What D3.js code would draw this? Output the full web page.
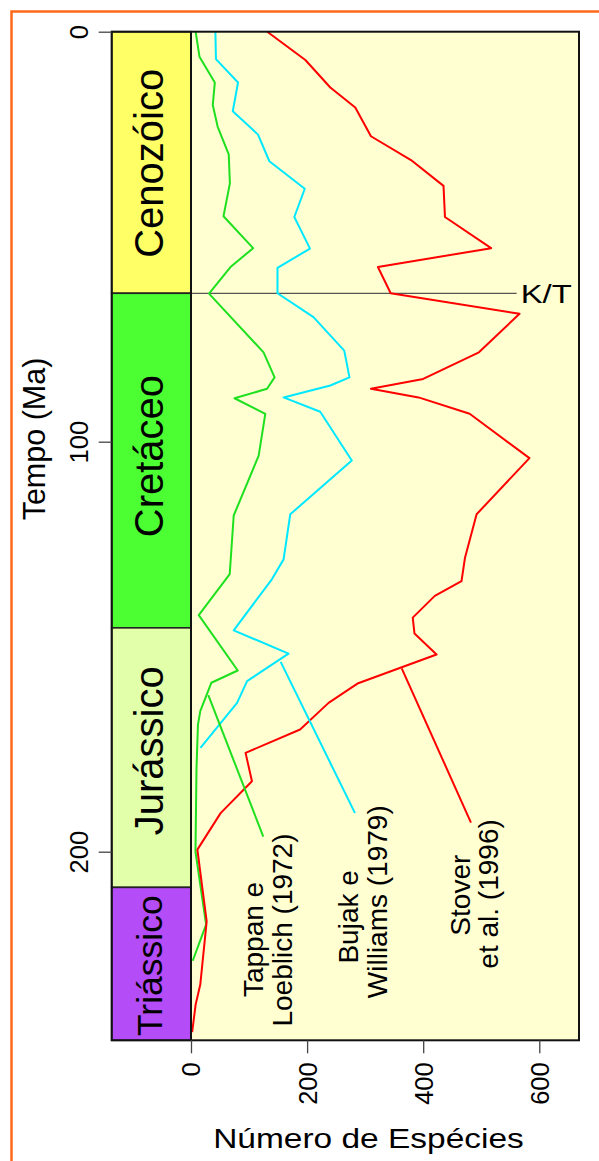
<!DOCTYPE html>
<html><head><meta charset="utf-8">
<script src="https://cdn.jsdelivr.net/npm/d3@7"></script>
<style>
html,body{margin:0;padding:0;background:#fff;}
svg{display:block;}
text{font-family:"Liberation Sans",Arial,Helvetica,sans-serif;fill:#000;}
</style>
</head><body><div id="chart"></div>
<script>
// ---- data ----
const eraNames   = ["Cenozóico","Cretáceo","Jurássico","Triássico"];
const eraStart   = [0, 63.8, 145.4, 208.7];
const eraEnd     = [63.8, 145.4, 208.7, 246];
const eraLabelAt = [32.1, 103.5, 175.4, 227.8];
const eraColors  = ["#FFFF66","#4CFF33","#E2FFAA","#B44CF8"];
const eraFont    = [40, 40, 40, 35.5];

const timeTicks    = [0, 100, 200];
const speciesTicks = [0, 200, 400, 600];

// [tempo (Ma), número de espécies]
const tappan = [[0,8],[6.1,14.6],[12.4,41],[17.9,37.5],[23.2,46],[29.9,65],[37,67],[45,56],[52.8,107],[57.4,68],[63.9,31],[78.2,125],[84.3,144],[87.1,131],[89.4,75],[93.2,128],[103.4,116.6],[118,73.6],[132.3,66.7],[142.3,13.4],[155.8,80.5],[158.8,35],[165.7,16],[169,12],[179.6,9.5],[200,7.7],[217.8,26],[226.6,3]];
const bujak = [[0,42],[6.7,43],[12.4,81],[19.4,72],[25.1,115.5],[31.6,135],[38.3,196],[45.2,178],[52.9,205],[57.6,149],[63.8,149],[69.6,211],[77.8,264],[84.3,273],[86.3,240],[89.2,159.5],[92.7,222.6],[104.6,277],[117.7,171],[128.7,159.5],[133.5,139.6],[146,73.6],[151.7,168],[158.4,96.6],[163.7,79.4],[174.7,16.3]];
const stover = [[0,131.4],[6.9,197],[13.6,240],[18.5,283],[25.5,310],[31.3,379],[37.6,435],[45.2,437.5],[52.8,517],[57.4,322],[63.8,344],[68.8,566],[78.2,496],[84.7,400],[87.1,310],[89.2,392],[93.2,480],[104,583],[117.7,492],[128.3,472],[134,466],[137.6,420],[142.9,382],[146.8,385],[151.9,423],[158.9,288],[163.7,237],[170.2,188],[175.9,94],[182.8,105],[190.6,51],[199.5,11],[217,27],[232.4,16],[237.3,8],[244,2]];

const seriesColors = ["#1EE01E","#00E8FF","#FF0000"];
const labelLines   = [["Tappan e","Loeblich (1972)"],["Bujak e","Williams (1979)"],["Stover","et al. (1996)"]];
const labelV       = [[124.5,173.5],[288.2,337.1],[480.6,529.5]];
const labelT       = [[221.4,219.1],[215.9,212.2],[210.6,210.3]];
const leaderFrom   = [[161.8,29.8],[153.7,154.5],[155.3,363]];
const leaderTo     = [[196.3,124.5],[190.6,282.5],[192.9,482.3]];

const ktTime = 63.8, ktLineEnd = 561, ktLabelV = 568;

// ---- drawing ----
const W = 599, H = 1161;
const svg = d3.select("#chart").append("svg").attr("width", W).attr("height", H);

const x = d3.scaleLinear().domain([-136.6, 668.4]).range([111.7, 579]);
const y = d3.scaleLinear().domain([0, 246]).range([31.7, 1040.3]);
const [xl, xr] = x.range(), [yt, yb] = y.range();

// orange frame
svg.append("rect").attr("x", 11.5).attr("y", 11.5).attr("width", 800).attr("height", 1400)
  .attr("fill", "none").attr("stroke", "#FF6A1A").attr("stroke-width", 2.5);

// plot background
svg.append("rect").attr("x", x(0)).attr("y", yt).attr("width", xr - x(0)).attr("height", yb - yt)
  .attr("fill", "#FFFFD2");

// eras
const eras = eraNames.map((n, i) => ({n, s: eraStart[i], e: eraEnd[i], c: eraColors[i], l: eraLabelAt[i], f: eraFont[i]}));
svg.append("g").selectAll("rect").data(eras).join("rect")
  .attr("x", xl).attr("y", d => y(d.s)).attr("width", x(0) - xl).attr("height", d => y(d.e) - y(d.s))
  .attr("fill", d => d.c).attr("stroke", "#222").attr("stroke-width", 1.6);
svg.append("g").selectAll("text").data(eras).join("text")
  .attr("transform", d => `translate(${(xl + x(0)) / 2 + d.f * 0.3},${y(d.l)}) rotate(-90)`)
  .attr("text-anchor", "middle").attr("font-size", d => d.f).text(d => d.n);

// K/T line
svg.append("line").attr("x1", x(0)).attr("x2", x(ktLineEnd)).attr("y1", y(ktTime)).attr("y2", y(ktTime))
  .attr("stroke", "#555").attr("stroke-width", 1.3);
svg.append("text").attr("transform", `translate(${x(ktLabelV)},${y(ktTime)}) scale(1.24,1)`)
  .attr("dy", "0.35em").attr("font-size", 26.5).text("K/T");

// series
const line = d3.line().x(d => x(d[1])).y(d => y(d[0]));
[tappan, bujak, stover].forEach((s, i) => {
  svg.append("path").datum(s).attr("d", line).attr("fill", "none")
    .attr("stroke", seriesColors[i]).attr("stroke-width", 2).attr("stroke-linejoin", "round");
});

// leaders + labels
labelLines.forEach((lines, i) => {
  svg.append("line")
    .attr("x1", x(leaderFrom[i][1])).attr("y1", y(leaderFrom[i][0]))
    .attr("x2", x(leaderTo[i][1])).attr("y2", y(leaderTo[i][0]))
    .attr("stroke", seriesColors[i]).attr("stroke-width", 2);
  lines.forEach((t, j) => {
    svg.append("text")
      .attr("transform", `translate(${x(labelV[i][j])},${y(labelT[i][j])}) rotate(-90)`)
      .attr("text-anchor", "middle").attr("font-size", 28).text(t);
  });
});

// border + separator
svg.append("rect").attr("x", xl).attr("y", yt).attr("width", xr - xl).attr("height", yb - yt)
  .attr("fill", "none").attr("stroke", "#111").attr("stroke-width", 2);
svg.append("line").attr("x1", x(0)).attr("x2", x(0)).attr("y1", yt).attr("y2", yb)
  .attr("stroke", "#111").attr("stroke-width", 2);

// y axis
const gy = svg.append("g").attr("transform", `translate(${xl},0)`)
  .call(d3.axisLeft(y).tickValues(timeTicks).tickSize(13).tickFormat(d3.format("d")));
gy.select(".domain").remove();
gy.selectAll(".tick line").attr("stroke", "#444").attr("stroke-width", 1.3);
gy.selectAll(".tick text").attr("x", null).attr("dy", null).attr("fill", "#000")
  .attr("font-family", null).attr("font-size", 25.5).attr("text-anchor", "middle")
  .attr("transform", "translate(-24.2,0) rotate(-90)");

// x axis
const gx = svg.append("g").attr("transform", `translate(0,${yb})`)
  .call(d3.axisBottom(x).tickValues(speciesTicks).tickSize(13).tickFormat(d3.format("d")));
gx.select(".domain").remove();
gx.selectAll(".tick line").attr("stroke", "#444").attr("stroke-width", 1.3);
gx.selectAll(".tick text").attr("y", null).attr("dy", null).attr("fill", "#000")
  .attr("font-family", null).attr("font-size", 25.5).attr("text-anchor", "end")
  .attr("transform", "translate(9,22) rotate(-90)");

// axis titles
svg.append("text").attr("transform", `translate(45,439) rotate(-90)`)
  .attr("text-anchor", "middle").attr("font-size", 30.5).text("Tempo (Ma)");
svg.append("text").attr("transform", `translate(368.5,1147.7) scale(1.24,1)`)
  .attr("text-anchor", "middle").attr("font-size", 27).text("Número de Espécies");
</script>
</body></html>
